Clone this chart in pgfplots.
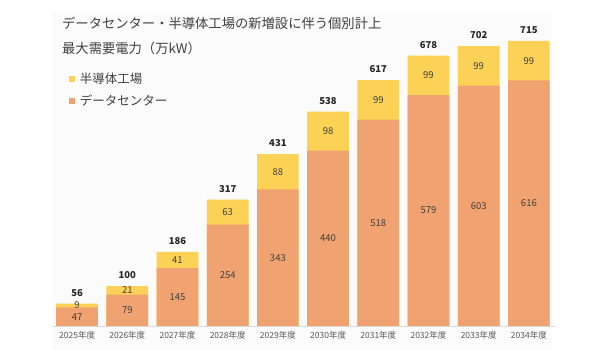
\documentclass[border=0pt]{standalone}
\usepackage{pgfplots}
\pgfplotsset{compat=1.18}
\usepackage{pgfplotstable}
\usepackage{fontspec}
\setmainfont{Noto Sans CJK JP}
\definecolor{dcorange}{HTML}{F0A270}
\definecolor{semiyellow}{HTML}{FBD255}
\definecolor{txtdark}{HTML}{404040}
\definecolor{txtgray}{HTML}{595959}
\definecolor{axisgray}{HTML}{D9D9D9}
\definecolor{bggray}{HTML}{FBFBFB}

\pgfplotstableread{
idx dc  semi total dcmid semimid
0   47  9    56    23.5  51.5
1   79  21   100   39.5  89.5
2   145 41   186   72.5  165.5
3   254 63   317   127   285.5
4   343 88   431   171.5 387
5   440 98   538   220   489
6   518 99   617   259   567.5
7   579 99   678   289.5 628.5
8   603 99   702   301.5 652.5
9   616 99   715   308   665.5
}\datatable

\begin{document}
\begin{tikzpicture}[x=1pt,y=1pt]
\useasboundingbox (0,0) rectangle (590,350);
\fill[bggray] (52,0) rectangle (552,338);
\begin{axis}[
  at={(53pt,24pt)}, anchor=south west,
  scale only axis,
  width=502pt, height=318.9pt,
  xmin=-0.48, xmax=9.52,
  ymin=0, ymax=800,
  axis x line*=bottom,
  axis y line=none,
  x axis line style={draw=axisgray, line width=0.8pt},
  xtick={0,...,9},
  xticklabels={2025年度,2026年度,2027年度,2028年度,2029年度,2030年度,2031年度,2032年度,2033年度,2034年度},
  major tick length=0pt,
  xticklabel style={font=\fontsize{8.5}{10}\selectfont, text=txtgray, yshift=-2pt},
  /pgf/number format/assume math mode=true,
  clip=false,
  legend style={at={(0.031,0.80)}, anchor=north west, draw=none, fill=none,
    font=\fontsize{12.5}{14}\selectfont, text=txtdark,
    row sep=6pt, inner sep=0pt},
  legend cell align=left,
]
\addplot[ybar, bar width=41.7pt, bar shift=0pt, fill=semiyellow, draw=none,
  legend image code/.code={\fill[semiyellow] (0pt,-3.2pt) rectangle (6.5pt,3.3pt); \path (0pt,0pt) -- (9pt,0pt);},
  nodes near coords, point meta=explicit,
  nodes near coords align=vertical,
  every node near coord/.append style={font=\bfseries\fontsize{9.5}{11}\selectfont, text=black!85, anchor=south, inner sep=0pt, yshift=7pt}]
  table[x=idx, y=total, meta=total] {\datatable};
\addlegendentry{半導体工場}
\addplot[ybar, bar width=41.7pt, bar shift=0pt, fill=dcorange, draw=none,
  legend image code/.code={\fill[dcorange] (0pt,-3.2pt) rectangle (6.5pt,3.3pt); \path (0pt,0pt) -- (9pt,0pt);}]
  table[x=idx, y=dc] {\datatable};
\addlegendentry{データセンター}
\addplot[only marks, mark=none, forget plot,
  nodes near coords, point meta=explicit, nodes near coords align=center,
  every node near coord/.append style={font=\fontsize{9.5}{11}\selectfont, text=txtdark, anchor=center, inner sep=0pt}]
  table[x=idx, y=dcmid, meta=dc] {\datatable};
\addplot[only marks, mark=none, forget plot,
  nodes near coords, point meta=explicit, nodes near coords align=center,
  every node near coord/.append style={font=\fontsize{9.5}{11}\selectfont, text=txtdark, anchor=center, inner sep=0pt}]
  table[x=idx, y=semimid, meta=semi] {\datatable};
\end{axis}
\node[anchor=west, inner sep=0pt, text=txtdark, font=\fontsize{13.3}{15}\selectfont] at (62,327) {データセンター・半導体工場の新増設に伴う個別計上};
\node[anchor=west, inner sep=0pt, text=txtdark, font=\fontsize{13.3}{15}\selectfont] at (62,302) {最大需要電力（万kW）};
\end{tikzpicture}
\end{document}
